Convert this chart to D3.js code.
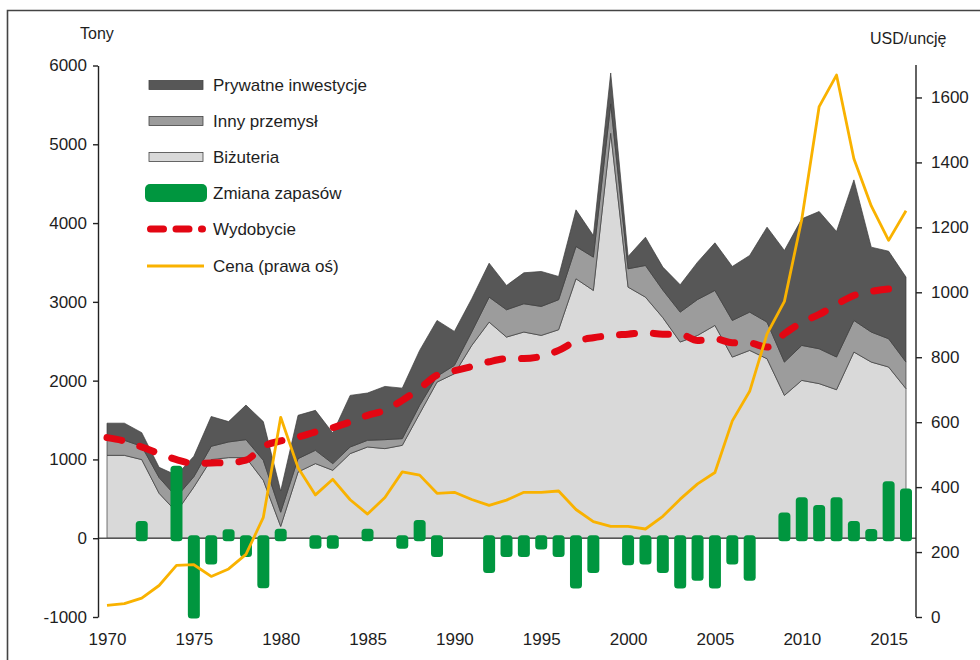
<!DOCTYPE html>
<html lang="pl">
<head>
<meta charset="utf-8">
<title>Popyt na złoto i wydobycie</title>
<script src="https://cdn.jsdelivr.net/npm/d3@7"></script>
<style>
  body { margin: 0; background: #fff; }
  svg { display: block; font-family: "Liberation Sans", Arial, sans-serif; }
  text { fill: #1e1e1e; }
</style>
</head>
<body>
<script>
// Lata (oś X)
const years = [
  1970, 1971, 1972, 1973, 1974, 1975, 1976, 1977, 1978, 1979,
  1980, 1981, 1982, 1983, 1984, 1985, 1986, 1987, 1988, 1989,
  1990, 1991, 1992, 1993, 1994, 1995, 1996, 1997, 1998, 1999,
  2000, 2001, 2002, 2003, 2004, 2005, 2006, 2007, 2008, 2009,
  2010, 2011, 2012, 2013, 2014, 2015, 2016
];

// Popyt w tonach (warstwy skumulowane)
const jewelry = [
  1052, 1052, 998, 570, 334, 650, 998, 1023, 1023, 735,
  150, 841, 947, 862, 1074, 1158, 1137, 1179, 1581, 1982,
  2088, 2447, 2743, 2553, 2617, 2574, 2646, 3293, 3145, 5140,
  3187, 3060, 2800, 2490, 2574, 2701, 2299, 2384, 2278, 1813,
  2003, 1962, 1885, 2363, 2236, 2173, 1898
];
const industry = [
  191, 191, 169, 200, 190, 130, 169, 199, 228, 254,
  180, 169, 169, 85, 84, 85, 114, 85, 106, 72,
  106, 173, 317, 347, 359, 368, 381, 410, 423, 372,
  233, 402, 350, 380, 456, 444, 465, 486, 465, 423,
  444, 443, 415, 401, 381, 359, 338
];
const investment = [
  217, 217, 173, 130, 276, 260, 378, 258, 439, 491,
  270, 550, 507, 389, 655, 600, 676, 641, 697, 710,
  431, 420, 431, 308, 393, 444, 295, 465, 274, 393,
  156, 359, 291, 347, 474, 604, 685, 719, 1205, 1416,
  1607, 1742, 1593, 1784, 1077, 1111, 1078
];

// Zmiana zapasów (tony)
const stockChange = [
  0, 0, 220, 0, 920, -1020, -335, 115, -237, -635,
  120, 0, -135, -135, 0, 120, 0, -135, 230, -237,
  0, 0, -440, -237, -237, -144, -237, -638, -440, 0,
  -342, -334, -440, -638, -541, -638, -334, -541, 0, 325,
  520, 423, 520, 220, 118, 723, 630
];

// Wydobycie (tony)
const mining = [
  1277, 1234, 1158, 1074, 998, 950, 955, 960, 990, 1165,
  1235, 1285, 1348, 1403, 1475, 1560, 1623, 1750, 1900, 2070,
  2125, 2180, 2240, 2278, 2280, 2308, 2384, 2500, 2545, 2574,
  2590, 2608, 2590, 2590, 2510, 2530, 2481, 2477, 2426, 2595,
  2740, 2840, 2967, 3081, 3132, 3162, 3170
];

// Cena (USD/uncję, prawa oś)
const price = [
  36, 41, 58, 97, 159, 161, 125, 148, 193, 307,
  615, 460, 376, 424, 361, 317, 368, 447, 437, 381,
  384, 362, 344, 360, 384, 384, 388, 331, 294, 279,
  279, 271, 310, 363, 410, 445, 604, 695, 872, 972,
  1225, 1572, 1669, 1411, 1266, 1160, 1251
];

const leftTicks = [-1000, 0, 1000, 2000, 3000, 4000, 5000, 6000];
const rightTicks = [0, 200, 400, 600, 800, 1000, 1200, 1400, 1600];
const yearTicks = [1970, 1975, 1980, 1985, 1990, 1995, 2000, 2005, 2010, 2015];

const layerKeys = ["jewelry", "industry", "investment"];
const layerColors = { jewelry: "#d9d9d9", industry: "#9c9c9c", investment: "#575757" };

const legendItems = [
  { name: "Prywatne inwestycje", type: "area", color: "#575757" },
  { name: "Inny przemysł", type: "area", color: "#9c9c9c" },
  { name: "Biżuteria", type: "area", color: "#d9d9d9" },
  { name: "Zmiana zapasów", type: "bar", color: "#00963f" },
  { name: "Wydobycie", type: "dash", color: "#e30613" },
  { name: "Cena (prawa oś)", type: "line", color: "#f9b200" }
];

const fontSize = 17;

function init() {
  const width = 980;
  const height = 660;

  const svg = d3
    .select("body")
    .append("svg")
    .attr("width", width)
    .attr("height", height);

  // Step 1: rows for the stack
  const rows = years.map((year, i) => ({
    year: year,
    jewelry: jewelry[i],
    industry: industry[i],
    investment: investment[i]
  }));

  // Step 2: scales
  const x = d3.scaleLinear().domain([1970, 2016]).range([107, 906]);
  const yLeft = d3.scaleLinear().domain([-1000, 6000]).range([617, 65.5]);
  const yRight = d3.scaleLinear().domain([0, 1700]).range([617, 65]);

  // Step 3: stacked areas
  const stacked = d3.stack().keys(layerKeys)(rows);

  const area = d3
    .area()
    .x((d) => x(d.data.year))
    .y0((d) => yLeft(d[0]))
    .y1((d) => yLeft(d[1]));

  svg
    .append("g")
    .selectAll("path")
    .data(stacked)
    .enter()
    .append("path")
    .attr("d", area)
    .attr("fill", (d) => layerColors[d.key])
    .attr("stroke", "#3c3c3c")
    .attr("stroke-width", 0.7)
    .attr("stroke-linejoin", "round");

  // Step 4: zero line
  svg
    .append("line")
    .attr("x1", 98)
    .attr("x2", 916)
    .attr("y1", yLeft(0))
    .attr("y2", yLeft(0))
    .attr("stroke", "#555")
    .attr("stroke-width", 1.5);

  // Step 5: stock change bars (rounded ends, a little past zero)
  const barW = 12;
  svg
    .append("g")
    .selectAll("rect")
    .data(years.map((year, i) => ({ year: year, value: stockChange[i] })).filter((d) => d.value !== 0))
    .enter()
    .append("rect")
    .attr("x", (d) => x(d.year) - barW / 2)
    .attr("y", (d) => (d.value > 0 ? yLeft(d.value) : yLeft(0) - 3))
    .attr("width", barW)
    .attr("height", (d) => Math.abs(yLeft(d.value) - yLeft(0)) + 3)
    .attr("rx", 3.5)
    .attr("fill", "#00963f");

  // Step 6: mining production (dashed red)
  const miningLine = d3
    .line()
    .x((d, i) => x(years[i]))
    .y((d) => yLeft(d))
    .curve(d3.curveMonotoneX);

  svg
    .append("path")
    .attr("d", miningLine(mining))
    .attr("fill", "none")
    .attr("stroke", "#e30613")
    .attr("stroke-width", 7)
    .attr("stroke-linecap", "round")
    .attr("stroke-dasharray", "15 19");

  // Step 7: price line on the right axis
  const priceLine = d3
    .line()
    .x((d, i) => x(years[i]))
    .y((d) => yRight(d));

  svg
    .append("path")
    .attr("d", priceLine(price))
    .attr("fill", "none")
    .attr("stroke", "#f9b200")
    .attr("stroke-width", 2.8)
    .attr("stroke-linejoin", "round");

  // Step 8: axes (plain numbers, hyphen minus)
  const plain = (d) => String(d);

  const leftAxis = svg
    .append("g")
    .attr("transform", "translate(98,0)")
    .call(d3.axisLeft(yLeft).tickValues(leftTicks).tickFormat(plain).tickSize(5).tickSizeOuter(0).tickPadding(6));

  const rightAxis = svg
    .append("g")
    .attr("transform", "translate(916,0)")
    .call(d3.axisRight(yRight).tickValues(rightTicks).tickFormat(plain).tickSize(6).tickSizeOuter(0).tickPadding(9));

  // right axis line reaches to the top of the plot
  rightAxis.select(".domain").attr("d", "M0,617V65");

  const bottomAxis = svg
    .append("g")
    .attr("transform", "translate(0,627)")
    .call(d3.axisBottom(x).tickValues(yearTicks).tickFormat(plain).tickSize(0).tickPadding(6));
  bottomAxis.select(".domain").remove();

  [leftAxis, rightAxis, bottomAxis].forEach((g) => {
    g.attr("font-family", null).attr("font-size", null);
    g.selectAll("text").attr("font-size", fontSize).attr("fill", "#1e1e1e");
    g.selectAll(".domain, line").attr("stroke", "#222").attr("stroke-width", 1.4);
  });

  // Step 9: axis titles
  svg.append("text").attr("x", 80).attr("y", 38.5).attr("font-size", 16).text("Tony");
  svg.append("text").attr("x", 870).attr("y", 43.5).attr("font-size", 16).text("USD/uncję");

  // Step 10: legend
  const legend = svg
    .append("g")
    .selectAll("g")
    .data(legendItems)
    .enter()
    .append("g")
    .attr("transform", (d, i) => `translate(0,${[85, 121, 157, 193, 229, 266][i]})`);

  legend
    .filter((d) => d.type === "area")
    .append("rect")
    .attr("x", 149)
    .attr("y", -4.5)
    .attr("width", 54)
    .attr("height", 9)
    .attr("fill", (d) => d.color)
    .attr("stroke", "#444")
    .attr("stroke-width", 0.8);

  legend
    .filter((d) => d.type === "bar")
    .append("rect")
    .attr("x", 145)
    .attr("y", -9)
    .attr("width", 62)
    .attr("height", 18)
    .attr("rx", 5)
    .attr("fill", (d) => d.color);

  legend
    .filter((d) => d.type === "dash")
    .append("line")
    .attr("x1", 150.5)
    .attr("x2", 202.5)
    .attr("stroke", (d) => d.color)
    .attr("stroke-width", 7)
    .attr("stroke-linecap", "round")
    .attr("stroke-dasharray", "13 12.5");

  legend
    .filter((d) => d.type === "line")
    .append("line")
    .attr("x1", 147)
    .attr("x2", 204)
    .attr("stroke", (d) => d.color)
    .attr("stroke-width", 3);

  legend
    .append("text")
    .attr("x", 213)
    .attr("dy", "0.35em")
    .attr("font-size", fontSize)
    .text((d) => d.name);

  // Step 11: frame (left and top edges)
  svg
    .append("path")
    .attr("d", "M7.5,660V10.5H980")
    .attr("fill", "none")
    .attr("stroke", "#444")
    .attr("stroke-width", 1.6);
}

init();
</script>
</body>
</html>
